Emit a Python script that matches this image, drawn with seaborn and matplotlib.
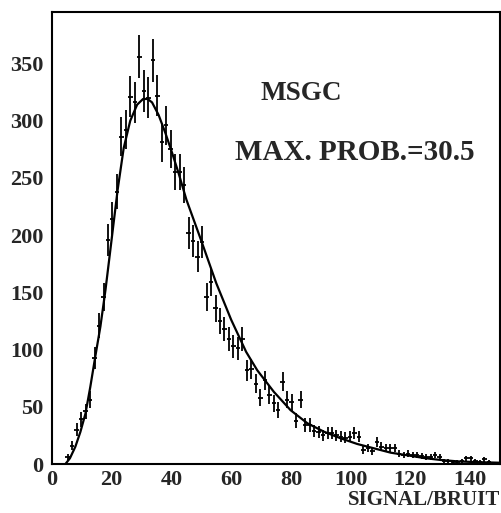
import numpy as np
import pandas as pd
import seaborn as sns
import matplotlib
matplotlib.use("Agg")
from matplotlib import pyplot as plt
from matplotlib.ticker import MultipleLocator

# histogram: bin centres (bin width 1.5) and counts
bin_centres = [5.25, 6.75, 8.25, 9.75, 11.25, 12.75, 14.25, 15.75, 17.25, 18.75,
               20.25, 21.75, 23.25, 24.75, 26.25, 27.75, 29.25, 30.75, 32.25, 33.75,
               35.25, 36.75, 38.25, 39.75, 41.25, 42.75, 44.25, 45.75, 47.25, 48.75,
               50.25, 51.75, 53.25, 54.75, 56.25, 57.75, 59.25, 60.75, 62.25, 63.75,
               65.25, 66.75, 68.25, 69.75, 71.25, 72.75, 74.25, 75.75, 77.25, 78.75,
               80.25, 81.75, 83.25, 84.75, 86.25, 87.75, 89.25, 90.75, 92.25, 93.75,
               95.25, 96.75, 98.25, 99.75, 101.25, 102.75, 104.25, 105.75, 107.25, 108.75,
               110.25, 111.75, 113.25, 114.75, 116.25, 117.75, 119.25, 120.75, 122.25, 123.75,
               125.25, 126.75, 128.25, 129.75, 131.25, 132.75, 134.25, 135.75, 137.25, 138.75,
               140.25, 141.75, 143.25, 144.75, 146.25, 147.75, 149.25]
counts = [6, 16, 30, 39, 46, 56, 93, 121, 146, 196,
          214, 238, 286, 292, 321, 316, 356, 326, 320, 353,
          322, 281, 296, 275, 255, 255, 244, 202, 195, 181,
          194, 146, 159, 136, 125, 118, 109, 103, 101, 109,
          82, 83, 70, 58, 73, 60, 53, 47, 72, 56,
          54, 38, 56, 34, 34, 29, 28, 25, 27, 27,
          25, 24, 23, 24, 27, 24, 12, 14, 11, 19,
          15, 14, 14, 14, 9, 8, 9, 8, 8, 7,
          6, 6, 8, 6, 3, 3, 2, 2, 3, 5,
          5, 3, 2, 4, 2, 1, 1]

# fitted curve, points
fit_x = [4.5, 6.0, 7.8, 9.5, 11.2, 12.8, 14.5, 16.2, 17.9, 19.3, 20.6, 22.0,
         24.0, 26.2, 28.5, 30.5, 32.0, 33.5, 35.7, 38.0, 40.2, 42.4, 45.0, 50.0,
         55.0, 60.0, 65.0, 68.7, 74.3, 79.9, 85.5, 91.0, 96.6, 102.2, 107.8,
         113.4, 119.0, 124.6, 130.2, 135.8, 141.4, 150.0]
fit_y = [0, 5, 15, 28, 44, 67, 94, 120, 152, 182, 210, 240,
         276, 300, 314, 319, 319, 316, 305, 289, 272, 254, 231, 195,
         158, 126, 98, 82, 63, 47, 35.6, 28.3, 22.5, 17.5, 13.7,
         9.9, 7.6, 5.2, 3.5, 2.3, 1.7, 1.1]

hist = pd.DataFrame({"x": bin_centres, "n": counts})
fit = pd.DataFrame({"x": fit_x, "y": fit_y})

sns.set_style("white")
plt.rcParams["font.family"] = ["Liberation Serif", "DejaVu Serif"]
plt.rcParams["font.weight"] = "bold"

fig = plt.figure(figsize=(5.02, 5.13), dpi=100)
ax = fig.add_axes([52 / 502, 49 / 513, 448 / 502, 452 / 513])

ax.errorbar(hist["x"], hist["n"], yerr=np.sqrt(hist["n"]), xerr=0.75,
            fmt="none", ecolor="black", elinewidth=1.3, capsize=0)
sns.lineplot(data=fit, x="x", y="y", color="black", linewidth=1.6, ax=ax)

ax.set_xlim(0, 150)
ax.set_ylim(0, 395)
ax.xaxis.set_major_locator(MultipleLocator(20))
ax.xaxis.set_minor_locator(MultipleLocator(5))
ax.yaxis.set_major_locator(MultipleLocator(50))
ax.yaxis.set_minor_locator(MultipleLocator(10))
ax.set_xticks(range(0, 150, 20))
ax.tick_params(which="both", direction="in", color="black", width=1.3,
               top=False, right=False, labelsize=16)
ax.tick_params(which="major", length=5.5)
ax.tick_params(which="minor", length=3.2)
ax.tick_params(axis="y", pad=6)
ax.tick_params(axis="x", pad=4.5)
for lab in ax.get_xticklabels() + ax.get_yticklabels():
    lab.set_fontweight("bold")
for side in ax.spines.values():
    side.set_visible(True)
    side.set_color("black")
    side.set_linewidth(1.5)

ax.set_xlabel("")
ax.set_ylabel("")
fig.text(500 / 502, 1 - 500 / 513, "SIGNAL/BRUIT", ha="right", va="center",
         fontsize=15, fontweight="bold")

ax.text(83.5, 318.5, "MSGC", ha="center", va="baseline",
        fontsize=19.5, fontweight="bold")
ax.text(101.3, 266, "MAX. PROB.=30.5", ha="center", va="baseline",
        fontsize=21, fontweight="bold")

fig.savefig("out.png", dpi=100)
